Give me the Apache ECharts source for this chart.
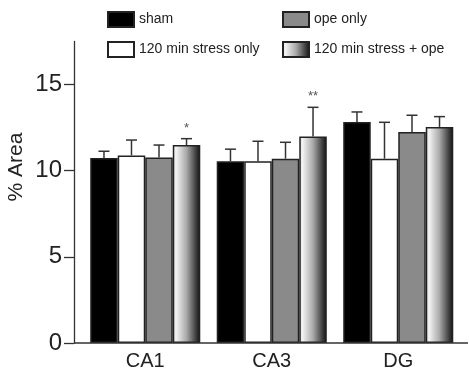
<!DOCTYPE html>
<html>
<head>
<meta charset="utf-8">
<script src="https://cdn.jsdelivr.net/npm/echarts@6/dist/echarts.min.js"></script>
<style>html,body{margin:0;padding:0;background:#fff}#c{width:469px;height:371px}</style>
</head>
<body>
<div id="c"></div>
<script>
const categories = ['CA1', 'CA3', 'DG'];
const seriesNames = ['sham', '120 min stress only', 'ope only', '120 min stress + ope'];
const shamMean = [10.74, 10.55, 12.83];
const shamErr = [0.39, 0.70, 0.58];
const stressMean = [10.89, 10.55, 10.70];
const stressErr = [0.89, 1.16, 2.11];
const opeMean = [10.76, 10.70, 12.25];
const opeErr = [0.73, 0.95, 0.97];
const comboMean = [11.49, 11.98, 12.54];
const comboErr = [0.37, 1.70, 0.60];
const comboSig = ['*', '**', ''];
const yTicks = [0, 5, 10, 15];

const FONT = 'Liberation Sans';
const gradientFill = {
  type: 'linear', x: 0, y: 0, x2: 1, y2: 0,
  colorStops: [
    {offset: 0, color: '#dedede'},
    {offset: 0.12, color: '#f3f3f3'},
    {offset: 0.5, color: '#a9a9a9'},
    {offset: 0.85, color: '#3c3c3c'},
    {offset: 1, color: '#111111'}
  ]
};
const fills = ['#000000', '#ffffff', '#8a8a8a', gradientFill];
const means = [shamMean, stressMean, opeMean, comboMean];
const errs = [shamErr, stressErr, opeErr, comboErr];
const sigs = [['', '', ''], ['', '', ''], ['', '', ''], comboSig];
const CAT_GAP = 0.13;

const barSeries = seriesNames.map((name, i) => ({
  name: name,
  type: 'bar',
  data: means[i],
  barGap: '0%',
  barCategoryGap: '13%',
  itemStyle: {color: fills[i], borderColor: '#222', borderWidth: 1.5},
  emphasis: {disabled: true}
}));

const errSeries = seriesNames.map((name, i) => ({
  type: 'custom',
  name: name + ' err',
  silent: true,
  z: 5,
  data: categories.map((c, k) => [k, means[i][k], errs[i][k]]),
  encode: {x: 0, y: 1},
  renderItem: function (params, api) {
    const k = api.value(0);
    const m = api.value(1);
    const e = api.value(2);
    const sig = sigs[i][k];
    const band = api.size([1, 0])[0];
    const bw = band * (1 - CAT_GAP) / 4;
    const center = api.coord([k, m]);
    const x = center[0] - band * (1 - CAT_GAP) / 2 + (i + 0.5) * bw;
    const yb = center[1];
    const yt = api.coord([k, m + e])[1];
    const cap = 5.5;
    const children = [
      {type: 'line', shape: {x1: x, y1: yb, x2: x, y2: yt}, style: {stroke: '#333', lineWidth: 1.5}},
      {type: 'line', shape: {x1: x - cap, y1: yt, x2: x + cap, y2: yt}, style: {stroke: '#333', lineWidth: 1.5}}
    ];
    if (sig) {
      children.push({type: 'text', x: x, y: yt - 4, style: {text: sig, fill: '#555', font: '13px ' + FONT, align: 'center', verticalAlign: 'bottom'}});
    }
    return {type: 'group', children: children};
  }
}));

const legendCommon = {
  orient: 'vertical', padding: 0, icon: 'rect',
  itemWidth: 26, itemHeight: 15, itemGap: 13, itemTextGap: 7, selectedMode: false,
  textStyle: {fontSize: 14, color: '#222', fontFamily: FONT}
};

const chart = echarts.init(document.getElementById('c'), null, {renderer: 'canvas'});
chart.setOption({
  animation: false,
  backgroundColor: '#fff',
  textStyle: {fontFamily: FONT},
  grid: {left: 82, right: 7.5, top: 41.5, bottom: 28, containLabel: false},
  legend: [
    Object.assign({data: [seriesNames[0], seriesNames[1]], left: 107, top: 11}, legendCommon),
    Object.assign({data: [seriesNames[2], seriesNames[3]], left: 282, top: 11}, legendCommon)
  ],
  xAxis: {
    type: 'category',
    data: categories,
    axisLine: {show: false},
    axisTick: {show: false},
    axisLabel: {fontSize: 20, color: '#222', margin: 8, fontFamily: FONT},
    splitLine: {show: false}
  },
  yAxis: {
    type: 'value',
    min: 0, max: 17.5, interval: 5,
    offset: 8,
    axisLine: {show: true, lineStyle: {color: '#333', width: 1.3}},
    axisTick: {show: true, length: 10, lineStyle: {color: '#333', width: 1.3}, customValues: yTicks},
    axisLabel: {fontSize: 24, color: '#222', margin: 12, fontFamily: FONT, customValues: yTicks},
    splitLine: {show: false}
  },
  graphic: [
    {type: 'line', shape: {x1: 74, y1: 343, x2: 468, y2: 343}, style: {stroke: '#333', lineWidth: 1.3}, z: 10},
    {type: 'text', x: 16.5, y: 167, rotation: Math.PI / 2,
     style: {text: '% Area', font: '21px ' + FONT, fill: '#222', align: 'center', verticalAlign: 'middle'}}
  ],
  series: barSeries.concat(errSeries)
});
</script>
</body>
</html>
